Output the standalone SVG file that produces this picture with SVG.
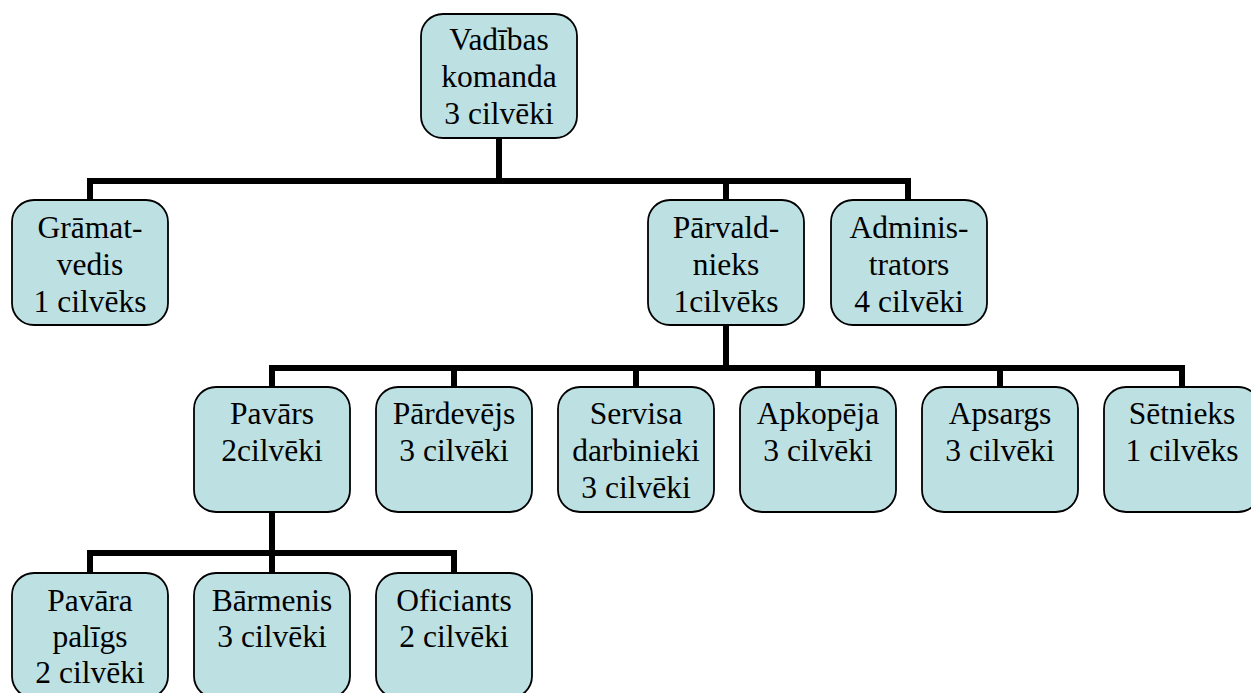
<svg xmlns="http://www.w3.org/2000/svg" width="1251" height="693" viewBox="0 0 1251 693">
<style>
.box{fill:#bde0e3;stroke:#000;stroke-width:1.8}
.t{font-family:'Liberation Serif',serif;font-size:31.5px;fill:#000;text-anchor:middle}
.c{fill:none;stroke:#000;stroke-width:6;stroke-linejoin:miter;stroke-linecap:butt}
</style>
<rect width="1251" height="693" fill="#fff"/>
<g id="connectors">
<path class="c" d="M499 138V181"/>
<path class="c" d="M90 200V181H908V200"/>
<path class="c" d="M726 181V200"/>
<path class="c" d="M726 325V368"/>
<path class="c" d="M272 387V368H1182V387"/>
<path class="c" d="M454 368V387M636 368V387M818 368V387M1000 368V387"/>
<path class="c" d="M272 512V553"/>
<path class="c" d="M90 573V553H454V573"/>
<path class="c" d="M272 553V573"/>
</g>
<g font-family="Liberation Serif">
<g id="vadibas"><rect class="box" x="421" y="14" width="156" height="124" rx="22"/><text class="t" x="499" y="50">Vadības</text><text class="t" x="499" y="87">komanda</text><text class="t" x="499" y="124">3 cilvēki</text></g>
<g id="gramatvedis"><rect class="box" x="12" y="200" width="156" height="125" rx="22"/><text class="t" x="90" y="238">Grāmat-</text><text class="t" x="90" y="275">vedis</text><text class="t" x="90" y="312">1 cilvēks</text></g>
<g id="parvaldnieks"><rect class="box" x="648" y="200" width="156" height="125" rx="22"/><text class="t" x="726" y="238">Pārvald-</text><text class="t" x="726" y="275">nieks</text><text class="t" x="726" y="312">1cilvēks</text></g>
<g id="administrators"><rect class="box" x="831" y="200" width="156" height="125" rx="22"/><text class="t" x="909" y="238">Adminis-</text><text class="t" x="909" y="275">trators</text><text class="t" x="909" y="312">4 cilvēki</text></g>
<g id="pavars"><rect class="box" x="194" y="387" width="156" height="125" rx="22"/><text class="t" x="272" y="424">Pavārs</text><text class="t" x="272" y="461">2cilvēki</text></g>
<g id="pardevejs"><rect class="box" x="376" y="387" width="156" height="125" rx="22"/><text class="t" x="454" y="424">Pārdevējs</text><text class="t" x="454" y="461">3 cilvēki</text></g>
<g id="servisa"><rect class="box" x="558" y="387" width="156" height="125" rx="22"/><text class="t" x="636" y="424">Servisa</text><text class="t" x="636" y="461">darbinieki</text><text class="t" x="636" y="498">3 cilvēki</text></g>
<g id="apkopeja"><rect class="box" x="740" y="387" width="156" height="125" rx="22"/><text class="t" x="818" y="424">Apkopēja</text><text class="t" x="818" y="461">3 cilvēki</text></g>
<g id="apsargs"><rect class="box" x="922" y="387" width="156" height="125" rx="22"/><text class="t" x="1000" y="424">Apsargs</text><text class="t" x="1000" y="461">3 cilvēki</text></g>
<g id="setnieks"><rect class="box" x="1104" y="387" width="156" height="125" rx="22"/><text class="t" x="1182" y="424">Sētnieks</text><text class="t" x="1182" y="461">1 cilvēks</text></g>
<g id="pavara-paligs"><rect class="box" x="12" y="573" width="156" height="125" rx="22"/><text class="t" x="90" y="611">Pavāra</text><text class="t" x="90" y="647">palīgs</text><text class="t" x="90" y="683">2 cilvēki</text></g>
<g id="barmenis"><rect class="box" x="194" y="573" width="156" height="125" rx="22"/><text class="t" x="272" y="611">Bārmenis</text><text class="t" x="272" y="647">3 cilvēki</text></g>
<g id="oficiants"><rect class="box" x="376" y="573" width="156" height="125" rx="22"/><text class="t" x="454" y="611">Oficiants</text><text class="t" x="454" y="647">2 cilvēki</text></g>
</g>
</svg>
